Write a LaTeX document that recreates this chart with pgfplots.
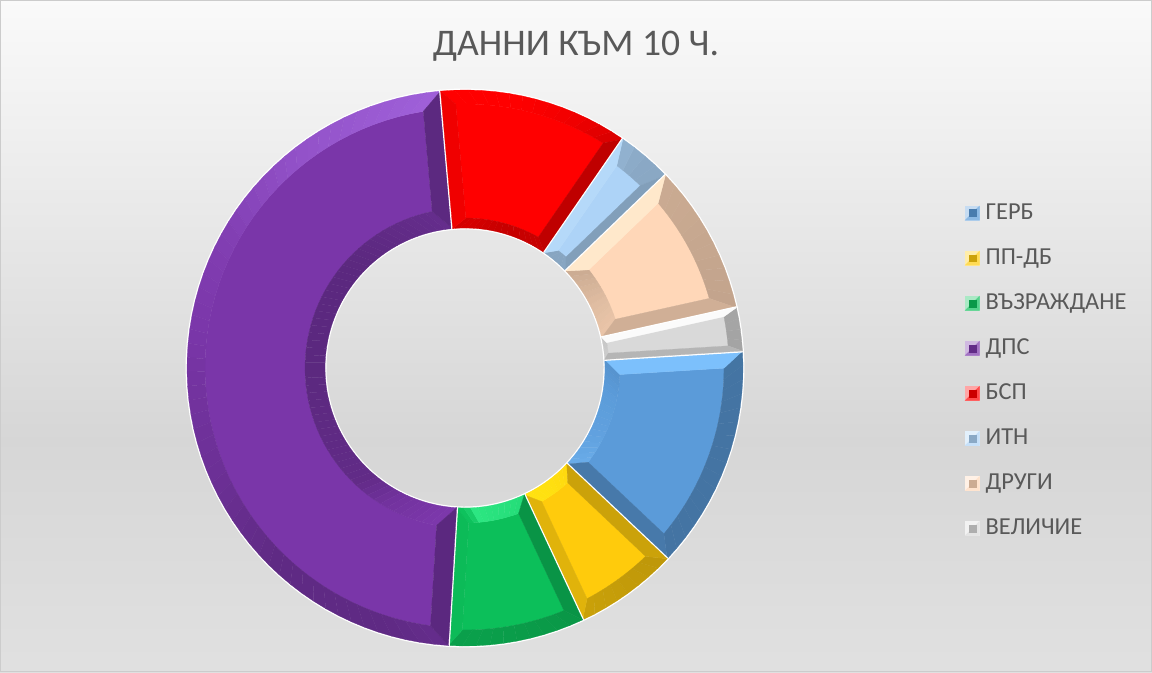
\documentclass[border=0pt]{standalone}
\usepackage{fontspec}
\setmainfont{Carlito}
\usepackage{pgfplots}
\usepackage{pgfplotstable}
\pgfplotsset{compat=1.18}

\definecolor{cGerb}{HTML}{5B9BD9}
\definecolor{cPpdb}{HTML}{FFCB0C}
\definecolor{cVaz}{HTML}{0CBF5A}
\definecolor{cDps}{HTML}{7A36A9}
\definecolor{cBsp}{HTML}{FF0000}
\definecolor{cItn}{HTML}{ADD3F7}
\definecolor{cDrugi}{HTML}{FFD7B8}
\definecolor{cVel}{HTML}{D9D9D9}
% lit facets
\definecolor{lGerb}{HTML}{7CC0FC}
\definecolor{lPpdb}{HTML}{FFEA12}
\definecolor{lVaz}{HTML}{2CE682}
\definecolor{lDps}{HTML}{A061DA}
\definecolor{lBsp}{HTML}{FF0000}
\definecolor{lItn}{HTML}{C8E6FF}
\definecolor{lDrugi}{HTML}{FFF8DC}
\definecolor{lVel}{HTML}{FFFFFF}
\definecolor{txt}{HTML}{595959}

% share in percent, colours, bevel widths in px (outer, inner, side)
\pgfplotstableread{
name value col lc bo bi bs
GERB 13.0 cGerb lGerb 19 15 16
PPDB 6.0 cPpdb lPpdb 17 14 13
VAZ 7.9 cVaz lVaz 16 15 13
DPS 47.6 cDps lDps 18 20 19
BSP 11.0 cBsp lBsp 14 10 14
ITN 3.2 cItn lItn 25 10 10
DRUGI 8.7 cDrugi lDrugi 24 18 15
VEL 2.5 cVel lVel 14 4 6
}\slices

\def\cx{465}\def\cy{304}\def\Rout{278}\def\Rin{140}
\xdef\cur{3.5}

\newcommand\addpt[2]{%
  \pgfmathsetmacro\px{\cx+(#1)*cos(#2)}%
  \pgfmathsetmacro\py{\cy+(#1)*sin(#2)}%
  \xdef\coords{\coords(\px,\py)}}

% tint of a facet from the direction it faces
\newcommand\gettint[1]{%
  \pgfmathsetmacro\nn{mod(#1+720,360)}%
  \foreach \na/\ta [remember=\na as \nb (initially 0), remember=\ta as \tb (initially -25)] in
    {50/-20,65/-6,80/0,90/3,93/35,128/22,150/7,172/0,185/-6,205/-12,227/-22,255/-22,270/-16,315/-25,360/-25}{%
    \pgfmathtruncatemacro\hit{and(\nn>=\nb,\nn<=\na)}%
    \ifnum\hit=1
      \pgfmathsetmacro\tt{\tb+(\ta-\tb)*(\nn-\nb)/(\na-\nb)}%
      \xdef\tint{\tt}%
    \fi}}

\newcommand\facet[1]{%
  \edef\temp{\noexpand\addplot[forget plot,fill=#1,draw=#1,line width=0.2pt] coordinates {\coords} -- cycle;}%
  \temp}

\newcommand\shfacet[1]{%
  \gettint{#1}%
  \ifdim\tint pt<0pt
    \pgfmathsetmacro\mm{100+\tint}\edef\fc{\sc!\mm!black}%
  \else
    \pgfmathsetmacro\mm{\tint/35*100}\edef\fc{\lc!\mm!\sc}%
  \fi
  \facet{\fc}}

% ring between radii, angle limits may differ at each radius
\newcommand\band[8]{% r1 a1lo a1hi r2 a2lo a2hi, steps, normal offset
  \foreach \k in {1,...,#7}{%
    \pgfmathsetmacro\ta{(\k-1)/#7}\pgfmathsetmacro\tb{\k/#7}%
    \gdef\coords{}%
    \pgfmathsetmacro\aa{#2+\ta*(#3-#2)}\addpt{#1}{\aa}%
    \pgfmathsetmacro\ab{#2+\tb*(#3-#2)}\addpt{#1}{\ab}%
    \pgfmathsetmacro\ac{#5+\tb*(#6-#5)}\addpt{#4}{\ac}%
    \pgfmathsetmacro\ad{#5+\ta*(#6-#5)}\addpt{#4}{\ad}%
    \pgfmathsetmacro\nm{(\aa+\ab)/2+#8}%
    \shfacet{\nm}}}

\newcommand\drawslice[1]{%
  \pgfplotstablegetelem{#1}{value}\of\slices\let\vv\pgfplotsretval
  \pgfplotstablegetelem{#1}{col}\of\slices\edef\sc{\pgfplotsretval}%
  \pgfplotstablegetelem{#1}{lc}\of\slices\edef\lc{\pgfplotsretval}%
  \pgfplotstablegetelem{#1}{bo}\of\slices\let\bo\pgfplotsretval
  \pgfplotstablegetelem{#1}{bi}\of\slices\let\bi\pgfplotsretval
  \pgfplotstablegetelem{#1}{bs}\of\slices\let\bs\pgfplotsretval
  \pgfmathsetmacro\ahi{\cur}%
  \pgfmathsetmacro\alo{\cur-\vv/99.9*360}%
  \xdef\cur{\alo}%
  \pgfmathsetmacro\ro{\Rout-\bo}%
  \pgfmathsetmacro\ri{\Rin+\bi}%
  \pgfmathsetmacro\dO{\bs/\ro*57.296}%
  \pgfmathsetmacro\dI{\bs/\ri*57.296}%
  \pgfmathtruncatemacro\nst{ceil((\ahi-\alo)/3)}%
  \pgfmathsetmacro\step{(\ahi-\alo)/\nst}%
  % white rim under the slice
  \gdef\coords{}%
  \foreach \k in {0,...,\nst}{\pgfmathsetmacro\aa{\alo+\k*\step}\addpt{\Rout}{\aa}}%
  \foreach \k in {\nst,...,0}{\pgfmathsetmacro\aa{\alo+\k*\step}\addpt{\Rin}{\aa}}%
  \edef\temp{\noexpand\addplot[forget plot,fill=white,draw=white,line width=2.2pt,line join=round] coordinates {\coords} -- cycle;}\temp
  % face
  \gdef\coords{}%
  \pgfmathsetmacro\fs{(\ahi-\alo-2*\dO)/\nst}%
  \pgfmathsetmacro\gs{(\ahi-\alo-2*\dI)/\nst}%
  \foreach \k in {0,...,\nst}{\pgfmathsetmacro\aa{\alo+\dO+\k*\fs}\addpt{\ro}{\aa}}%
  \foreach \k in {\nst,...,0}{\pgfmathsetmacro\aa{\alo+\dI+\k*\gs}\addpt{\ri}{\aa}}%
  \facet{\sc}%
  % bevels: outer, inner, then both sides
  \pgfmathsetmacro\bl{\alo+\dO}\pgfmathsetmacro\bh{\ahi-\dO}%
  \pgfmathsetmacro\cl{\alo+\dI}\pgfmathsetmacro\ch{\ahi-\dI}%
  \band{\Rout}{\alo}{\ahi}{\ro}{\bl}{\bh}{\nst}{0}%
  \band{\Rin}{\alo}{\ahi}{\ri}{\cl}{\ch}{\nst}{180}%
  \gdef\coords{}\addpt{\Rout}{\ahi}\addpt{\ro}{\bh}\addpt{\ri}{\ch}\addpt{\Rin}{\ahi}%
  \pgfmathsetmacro\nm{\ahi+90}\shfacet{\nm}%
  \gdef\coords{}\addpt{\Rout}{\alo}\addpt{\ro}{\bl}\addpt{\ri}{\cl}\addpt{\Rin}{\alo}%
  \pgfmathsetmacro\nm{\alo-90}\shfacet{\nm}}

% legend key: pale square, darker lower right, dark centre
\newcommand\legkey[1]{\addlegendimage{legend image code/.code={%
  \fill[#1!35!white] (0,-5.2pt) rectangle (10.5pt,5.2pt);
  \fill[#1!70!white] (0,-5.2pt) -- (10.5pt,-5.2pt) -- (10.5pt,5.2pt) -- cycle;
  \fill[#1!80!black] (2.6pt,-2.6pt) rectangle (8pt,2.6pt);}}}

\begin{document}
\begin{tikzpicture}
\shade[top color=white!98!black,bottom color=white!84!black] (0,174pt) rectangle (864pt,504pt);
\shade[top color=white!84!black,bottom color=white!88!black] (0,0) rectangle (864pt,174.5pt);
\draw[white!80!black,line width=0.75pt] (0.4pt,0.4pt) rectangle (863.6pt,503.6pt);
\begin{axis}[
    at={(0,0)},
    scale only axis,
    width=864pt,
    height=504pt,
    xmin=0, xmax=1152,
    ymin=0, ymax=672,
    hide axis,
    clip=false,
    title={ДАННИ КЪМ 10 Ч.},
    title style={at={(0.5,0.919)},anchor=center,font=\fontsize{28.2}{28.2}\selectfont,text=txt},
    legend cell align=left,
    legend style={at={(0.8375,0.696)},anchor=north west,draw=none,fill=none,
      inner sep=0pt,row sep=20.8pt,font=\fontsize{18.3}{18.3}\selectfont,text=txt,
      nodes={inner sep=0pt,text height=11pt,text depth=2pt},
      /tikz/every odd column/.append style={column sep=4.5pt}},
    ]
  \pgfplotsinvokeforeach{0,...,7}{\drawslice{#1}}
  \legkey{cGerb}\addlegendentry{ГЕРБ}
  \legkey{cPpdb}\addlegendentry{ПП-ДБ}
  \legkey{cVaz}\addlegendentry{ВЪЗРАЖДАНЕ}
  \legkey{cDps}\addlegendentry{ДПС}
  \legkey{cBsp}\addlegendentry{БСП}
  \legkey{cItn}\addlegendentry{ИТН}
  \legkey{cDrugi}\addlegendentry{ДРУГИ}
  \legkey{cVel}\addlegendentry{ВЕЛИЧИЕ}
\end{axis}
\end{tikzpicture}
\end{document}
